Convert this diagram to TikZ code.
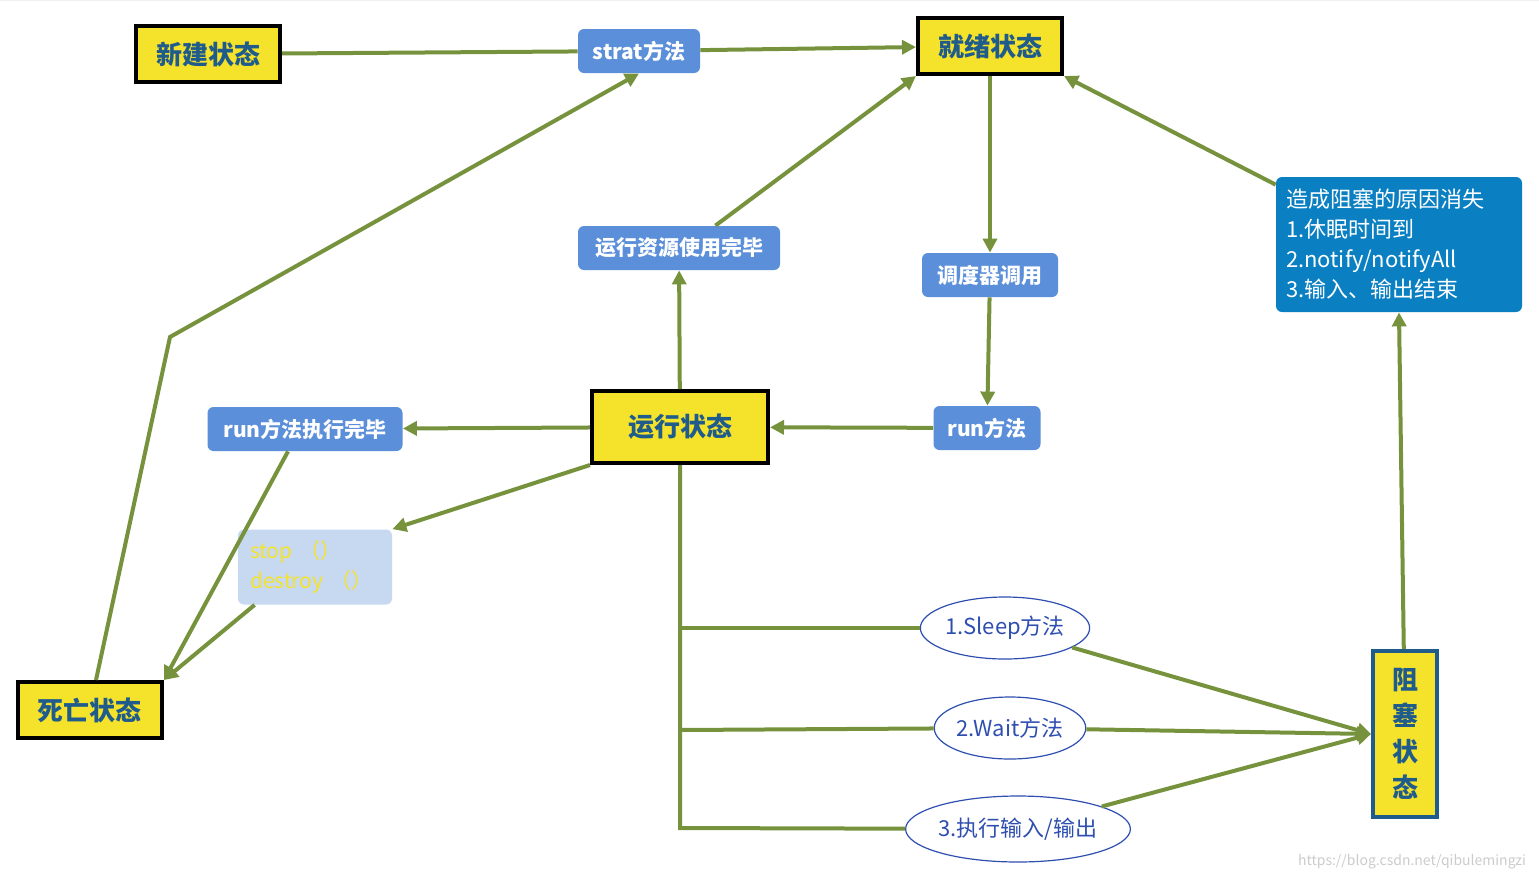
\documentclass[tikz,border=0pt]{standalone}
\usepackage{fontspec}
\setmainfont{Noto Sans CJK SC}
\usetikzlibrary{arrows.meta,shapes.geometric}
\definecolor{gr}{HTML}{76923C}
\definecolor{yl}{HTML}{F5E22A}
\definecolor{bl}{HTML}{5B8FD9}
\definecolor{bd}{HTML}{0A80C2}
\definecolor{lb}{HTML}{C6D9F1}
\definecolor{eb}{HTML}{2F4FB0}
\definecolor{tx}{HTML}{1F5C8C}
\tikzset{
 st/.style={draw=black,line width=2pt,fill=yl,font=\bfseries\fontsize{13}{15}\selectfont,text=tx,inner sep=0pt},
 lab/.style={fill=bl,rounded corners=3pt,text=white,font=\bfseries\fontsize{10.5}{12}\selectfont,inner sep=0pt,minimum height=22pt},
 el/.style={ellipse,draw=eb,fill=white,line width=0.6pt,text=eb,font=\fontsize{11}{13}\selectfont,inner sep=0pt},
 ar/.style={draw=gr,line width=2pt,-{Triangle[length=7pt,width=7pt]}},
 ln/.style={draw=gr,line width=2pt}
}
\begin{document}
\begin{tikzpicture}[x=0.5pt,y=-0.5pt]
\useasboundingbox (0,0) rectangle (1539,880);
\fill[white] (0,0) rectangle (1539,880);
\draw[gray!12,step=11pt] (0,0) grid (1539,-880);
\node[st,minimum width=72pt,minimum height=28pt] (new) at (208,54) {新建状态};
\node[lab,minimum width=61pt] (strat) at (639,51) {strat方法};
\node[st,minimum width=72pt,minimum height=28pt] (ready) at (990,46) {就绪状态};
\node[lab,minimum width=101pt] (res) at (679,248) {运行资源使用完毕};
\node[lab,minimum width=68pt] (sch) at (990,275) {调度器调用};
\node[fill=bd,rounded corners=3pt,text=white,font=\fontsize{11}{15}\selectfont,minimum width=123pt,minimum height=67.5pt,align=left,text width=113pt,inner sep=0pt] (cause) at (1399,244.5) {造成阻塞的原因消失\\1.休眠时间到\\2.notify/notifyAll\\3.输入、输出结束};
\node[lab,minimum width=97.5pt] (runend) at (305,429) {run方法执行完毕};
\node[st,minimum width=88pt,minimum height=36pt] (run) at (680,427) {运行状态};
\node[lab,minimum width=53.5pt] (rm) at (987,428) {run方法};
\node[fill=lb,rounded corners=3pt,text=yl,font=\fontsize{10.5}{15}\selectfont,minimum width=77pt,minimum height=37.5pt,align=left,text width=65pt,inner sep=0pt] (stop) at (315,567) {stop （）\\destroy （）};
\node[st,minimum width=72pt,minimum height=28pt] (dead) at (90,710) {死亡状态};
\node[st,draw=tx,minimum width=32pt,minimum height=83pt,align=center,font=\bfseries\fontsize{13}{18}\selectfont] (blk) at (1405,734) {阻\\塞\\状\\态};
\node[el,minimum width=77pt,minimum height=31pt] (e1) at (1005,628) {1.Sleep方法};
\node[el,minimum width=72pt,minimum height=31pt] (e2) at (1010,728) {2.Wait方法};
\node[el,minimum width=98pt,minimum height=33pt] (e3) at (1018,829) {3.执行输入/输出};
\node[text=gray!40,font=\fontsize{7}{8}\selectfont] (wm) at (1412,862) {https://blog.csdn.net/qibulemingzi};
\coordinate (k) at (170,337);
\coordinate (b1) at (680,628);
\coordinate (b2) at (680,730);
\coordinate (b3) at (680,828);
\draw[ln] (new) -- (strat);
\draw[ar] (strat) -- (ready);
\draw[ar] (dead.north) ++(6,0) -- (k) -- (strat.south);
\draw[ar] (res.north east) ++(-65,0) -- (ready.south west);
\draw[ar] (ready) -- (sch);
\draw[ar] (sch) -- (rm);
\draw[ar] (rm) -- (run);
\draw[ar] (run) -- (res);
\draw[ar] (run) -- (runend);
\draw[ar] (run.south west) -- (stop.north east);
\draw[ar] (runend.south) ++(-17,0) -- (dead.north east);
\draw[ar] (stop.south west) ++(17,0) -- (dead.north east);
\draw[ln] (run.south) -- (b3) -- (e3);
\draw[ln] (b1) -- (e1);
\draw[ln] (b2) -- (e2);
\draw[ar] (e1) -- (blk.west);
\draw[ar] (e2) -- (blk.west);
\draw[ar] (e3) -- (blk.west);
\draw[ar] (blk) -- (cause.south);
\draw[ar] (cause.north west) ++(0,8) -- (ready.south east);
\end{tikzpicture}
\end{document}
